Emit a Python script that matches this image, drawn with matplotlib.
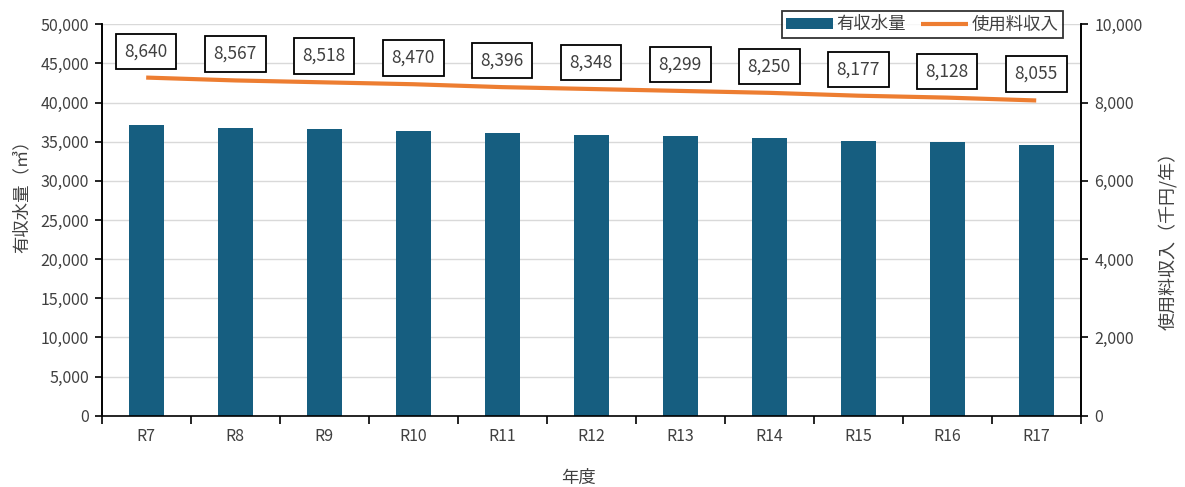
import matplotlib
matplotlib.use('Agg')
import matplotlib.pyplot as plt
from matplotlib.ticker import FuncFormatter, MultipleLocator

plt.rcParams['font.family'] = ['Noto Sans CJK JP', 'DejaVu Sans']

# 年度ごとの有収水量と使用料収入
years = ['R7', 'R8', 'R9', 'R10', 'R11', 'R12', 'R13', 'R14', 'R15', 'R16', 'R17']
water = [37085, 36790, 36575, 36320, 36105, 35890, 35680, 35470, 35130, 34915, 34575]
revenue = [8640, 8567, 8518, 8470, 8396, 8348, 8299, 8250, 8177, 8128, 8055]

bar_color = '#165E80'
line_color = '#ED7D31'
text_color = '#404040'

W, H = 1185, 487
fig = plt.figure(figsize=(W / 100, H / 100), dpi=100)
ax = fig.add_axes([0.0858, 0.1464, 0.8262, 0.8036])
ax2 = ax.twinx()

x = list(range(len(years)))
ax.bar(x, water, width=0.39, color=bar_color, label='有収水量', zorder=2)
ax2.plot(x, revenue, color=line_color, lw=3, solid_capstyle='butt', label='使用料収入', zorder=3)

for xi, v in zip(x, revenue):
    ax2.annotate(f'{v:,}', (xi, v), xytext=(0, 19), textcoords='offset points',
                 ha='center', va='center', fontsize=12.5, color=text_color,
                 bbox=dict(boxstyle='square,pad=0.5', fc='white', ec='black', lw=1.3))

ax.set_xlim(-0.5, len(years) - 0.5)
ax.set_ylim(0, 50000)
ax2.set_ylim(0, 10000)
ax.yaxis.set_major_locator(MultipleLocator(5000))
ax2.yaxis.set_major_locator(MultipleLocator(2000))
fmt = FuncFormatter(lambda v, p: f'{int(v):,}')
ax.yaxis.set_major_formatter(fmt)
ax2.yaxis.set_major_formatter(fmt)

ax.set_xticks(x)
ax.set_xticklabels(years)
ax.set_xticks([i - 0.5 for i in range(len(years) + 1)], minor=True)
ax.tick_params(axis='x', which='major', length=0, pad=9, labelsize=11.5, labelcolor=text_color)
ax.tick_params(axis='x', which='minor', length=6, width=1.2, direction='out')
ax.tick_params(axis='y', length=5, width=1.2, pad=4, labelsize=11.5, labelcolor=text_color)
ax2.tick_params(axis='y', length=5, width=1.2, pad=5, labelsize=11.5, labelcolor=text_color)

ax.grid(axis='y', color='#D9D9D9', lw=1, zorder=0)
ax.set_axisbelow(True)
for a in (ax, ax2):
    a.spines['top'].set_visible(False)
    a.spines['left'].set_linewidth(1.2)
    a.spines['right'].set_linewidth(1.2)
    a.spines['bottom'].set_linewidth(1.2)
ax2.spines['bottom'].set_visible(False)

# 軸タイトル
fig.text(22 / W, 1 - 192 / H, '有収水量（㎥）', rotation=90, ha='center', va='center',
         fontsize=12.5, color=text_color)
fig.text(1168 / W, 1 - 236 / H, '使用料収入（千円/年）', rotation=90, ha='center', va='center',
         fontsize=13, color=text_color)
fig.text(578 / W, 1 - 478 / H, '年度', ha='center', va='center', fontsize=12.5, color=text_color)

h1, l1 = ax.get_legend_handles_labels()
h2, l2 = ax2.get_legend_handles_labels()
leg = ax2.legend(h1 + h2, l1 + l2, loc='upper right', bbox_to_anchor=(1063 / W, 1 - 11 / H),
                 bbox_transform=fig.transFigure, ncol=2, fontsize=12.5, frameon=True, fancybox=False,
                 edgecolor='black', borderpad=0.25, handlelength=2.7, handleheight=0.6,
                 columnspacing=0.9, handletextpad=0.2, borderaxespad=0)
leg.get_frame().set_linewidth(1.3)
for t in leg.get_texts():
    t.set_color(text_color)

fig.savefig('out.png', dpi=100)
